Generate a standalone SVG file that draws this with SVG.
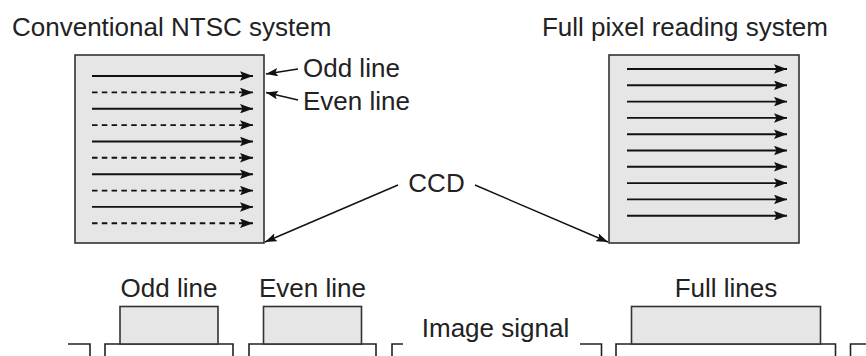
<svg xmlns="http://www.w3.org/2000/svg" width="866" height="356" viewBox="0 0 866 356">
<style>
text{font-family:"Liberation Sans",Arial,sans-serif;font-size:26px;fill:#222}
.box{fill:#e6e6e6;stroke:#333;stroke-width:1.6}
.ln{stroke:#111;stroke-width:1.9;fill:none}
.dash{stroke-dasharray:5.5 4.3}
.wave{stroke:#222;stroke-width:1.6;fill:none}
.ptr{stroke:#111;stroke-width:1.4;fill:none}
</style>
<defs>
<marker id="ah" viewBox="0 0 13 9.5" refX="13" refY="4.75" markerWidth="13" markerHeight="9.5" markerUnits="userSpaceOnUse" orient="auto">
<path d="M0,0 L13,4.75 L0,9.5 L2.5,4.75 Z" fill="#111"/>
</marker>
<marker id="ph" viewBox="0 0 12 8.5" refX="12" refY="4.25" markerWidth="12" markerHeight="8.5" markerUnits="userSpaceOnUse" orient="auto">
<path d="M0,0 L12,4.25 L0,8.5 L2.5,4.25 Z" fill="#111"/>
</marker>
</defs>
<text x="12" y="36">Conventional NTSC system</text>
<text x="828" y="36" text-anchor="end">Full pixel reading system</text>
<g id="ccd-left">
<rect class="box" x="75" y="55" width="189" height="188"/>
<g marker-end="url(#ah)">
<line class="ln" x1="92" y1="76" x2="253" y2="76"/>
<line class="ln dash" x1="92" y1="92.4" x2="253" y2="92.4"/>
<line class="ln" x1="92" y1="108.7" x2="253" y2="108.7"/>
<line class="ln dash" x1="92" y1="125.1" x2="253" y2="125.1"/>
<line class="ln" x1="92" y1="141.5" x2="253" y2="141.5"/>
<line class="ln dash" x1="92" y1="157.8" x2="253" y2="157.8"/>
<line class="ln" x1="92" y1="174.2" x2="253" y2="174.2"/>
<line class="ln dash" x1="92" y1="190.6" x2="253" y2="190.6"/>
<line class="ln" x1="92" y1="206.9" x2="253" y2="206.9"/>
<line class="ln dash" x1="92" y1="223.3" x2="253" y2="223.3"/>
</g>
</g>
<g id="ccd-right">
<rect class="box" x="609" y="55" width="190" height="188"/>
<g marker-end="url(#ah)">
<line class="ln" x1="627" y1="69" x2="787" y2="69"/>
<line class="ln" x1="627" y1="85.3" x2="787" y2="85.3"/>
<line class="ln" x1="627" y1="101.6" x2="787" y2="101.6"/>
<line class="ln" x1="627" y1="117.9" x2="787" y2="117.9"/>
<line class="ln" x1="627" y1="134.2" x2="787" y2="134.2"/>
<line class="ln" x1="627" y1="150.5" x2="787" y2="150.5"/>
<line class="ln" x1="627" y1="166.8" x2="787" y2="166.8"/>
<line class="ln" x1="627" y1="183.1" x2="787" y2="183.1"/>
<line class="ln" x1="627" y1="199.4" x2="787" y2="199.4"/>
<line class="ln" x1="627" y1="215.7" x2="787" y2="215.7"/>
</g>
</g>
<g id="label-odd"><text x="303" y="77">Odd line</text></g>
<g id="label-even"><text x="303" y="110">Even line</text></g>
<g id="label-ccd"><text x="436.5" y="192" text-anchor="middle">CCD</text></g>
<g id="connectors">
<line class="ptr" x1="298" y1="69" x2="266" y2="74" marker-end="url(#ph)"/>
<line class="ptr" x1="298" y1="100" x2="266" y2="92.5" marker-end="url(#ph)"/>
<line class="ptr" x1="398" y1="185" x2="265" y2="242" marker-end="url(#ph)"/>
<line class="ptr" x1="475" y1="185" x2="608" y2="242" marker-end="url(#ph)"/>
</g>
<g id="signal">
<text x="495.5" y="336.5" text-anchor="middle">Image signal</text>
<polyline class="wave" points="68,344 90,344 90,360"/>
<polyline class="wave" points="105,360 105,344 233,344 233,360"/>
<polyline class="wave" points="249,360 249,344 376,344 376,360"/>
<polyline class="wave" points="392,360 392,344 403,344"/>
<polyline class="wave" points="580,344 601.5,344 601.5,360"/>
<polyline class="wave" points="616,360 616,344 835.5,344 835.5,360"/>
<polyline class="wave" points="850.5,360 850.5,344 870,344"/>
</g>
<g id="pulse-odd">
<rect class="box" x="120" y="306.5" width="98" height="37.5"/>
<text x="169" y="297" text-anchor="middle">Odd line</text>
</g>
<g id="pulse-even">
<rect class="box" x="263.5" y="306.5" width="98" height="37.5"/>
<text x="312.5" y="297" text-anchor="middle">Even line</text>
</g>
<g id="pulse-full">
<rect class="box" x="631.5" y="306.5" width="189" height="37.5"/>
<text x="726" y="297" text-anchor="middle">Full lines</text>
</g>
</svg>
